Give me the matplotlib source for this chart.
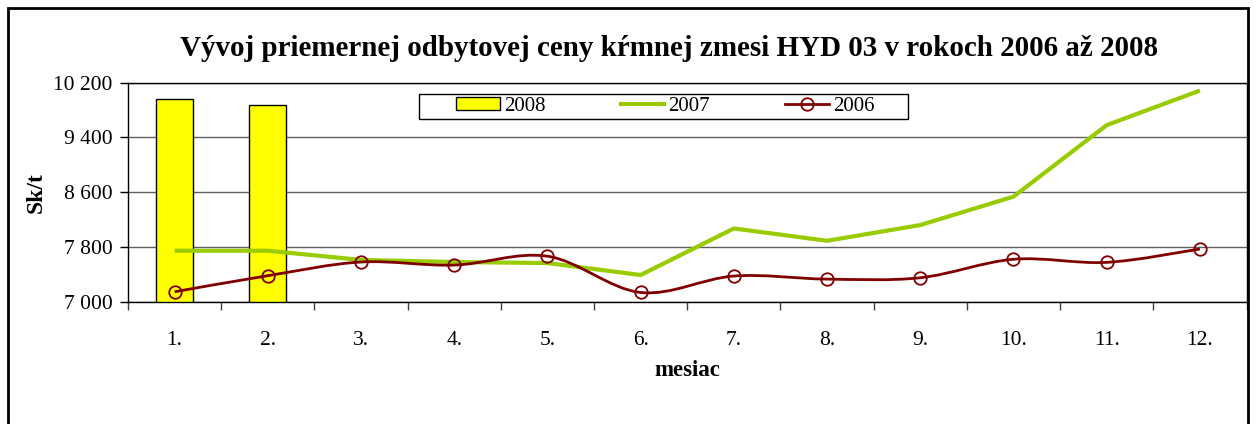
import numpy as np
import matplotlib
matplotlib.use('Agg')
import matplotlib.pyplot as plt
from matplotlib.path import Path
from matplotlib.patches import PathPatch, Rectangle, Patch
from matplotlib.lines import Line2D

# Data
months = ['1.', '2.', '3.', '4.', '5.', '6.', '7.', '8.', '9.', '10.', '11.', '12.']
price_2008 = [9960, 9880]
price_2007 = [7745, 7745, 7610, 7580, 7565, 7390, 8070, 7890, 8120, 8535, 9580, 10085]
price_2006 = [7145, 7380, 7580, 7535, 7665, 7135, 7375, 7330, 7350, 7620, 7575, 7770]

plt.rcParams['font.family'] = ['Liberation Serif', 'DejaVu Serif']

W, H = 1257, 424
fig = plt.figure(figsize=(W / 100, H / 100), dpi=100)
ax = fig.add_axes([128 / W, 1 - 301.7 / H, 1118.5 / W, 219 / H])

x = np.arange(len(months))

# yellow bars for 2008
ax.bar(x[:len(price_2008)], price_2008, width=0.4, color='#FFFF00',
       edgecolor='black', linewidth=1, zorder=2)

# green 2007 line
ax.plot(x, price_2007, color='#99CC00', lw=3, zorder=3, solid_capstyle='butt')


def smooth_path(xs, ys):
    # bezier curve through the points (catmull-rom style, like excel smoothing)
    pts = np.column_stack([xs, ys]).astype(float)
    verts = [pts[0]]
    codes = [Path.MOVETO]
    n = len(pts)
    for i in range(n - 1):
        p0 = pts[i - 1] if i > 0 else pts[i]
        p1 = pts[i]
        p2 = pts[i + 1]
        p3 = pts[i + 2] if i + 2 < n else pts[i + 1]
        c1 = p1 + (p2 - p0) / 6.0
        c2 = p2 - (p3 - p1) / 6.0
        verts += [c1, c2, p2]
        codes += [Path.CURVE4] * 3
    return Path(verts, codes)


ax.add_patch(PathPatch(smooth_path(x, price_2006), fill=False,
                       edgecolor='#800000', lw=2, zorder=4))
ax.plot(x, price_2006, 'o', ms=9, mfc='none', mec='#800000', mew=1.3, zorder=5)

ax.set_xlim(-0.5, len(months) - 0.5)
ax.set_ylim(7000, 10200)
ax.set_yticks([7000, 7800, 8600, 9400, 10200])
ax.set_yticklabels(['7 000', '7 800', '8 600', '9 400', '10 200'])
ax.yaxis.grid(True, color='#606060', lw=1, zorder=0)
ax.set_axisbelow(True)

ax.set_xticks(x)
ax.set_xticklabels(months)
ax.set_xticks(np.arange(-0.5, len(months), 1), minor=True)
ax.tick_params(axis='x', which='major', length=0, pad=21, labelsize=15.5)
ax.tick_params(axis='x', which='minor', length=6, width=1, color='#404040')
ax.tick_params(axis='y', length=6, width=1, pad=5, labelsize=15.5)

for s in ax.spines.values():
    s.set_linewidth(1)
    s.set_color('black')

ax.set_ylabel('Sk/t', fontsize=17, fontweight='bold', labelpad=5)
ax.set_xlabel('mesiac', fontsize=16.5, fontweight='bold', labelpad=7)

fig.text(669 / W, 1 - 49 / H,
         'Vývoj priemernej odbytovej ceny kŕmnej zmesi HYD 03 v rokoch 2006 až 2008',
         ha='center', va='center', fontsize=20.9, fontweight='bold')

# legend box drawn separately so the padding can match
ax.add_patch(Rectangle((0.26, 0.834), 0.437, 0.114, transform=ax.transAxes,
                       facecolor='white', edgecolor='black', lw=1, zorder=6))
handles = [
    Patch(facecolor='#FFFF00', edgecolor='black', lw=1),
    Line2D([], [], color='#99CC00', lw=3),
    Line2D([], [], color='#800000', lw=2, marker='o', ms=9, mfc='none',
           mec='#800000', mew=1.3),
]
leg = ax.legend(handles, ['2008', '2007', '2006'], ncol=3, loc='center',
                bbox_to_anchor=(0.26 + 0.437 / 2 + 0.002, 0.834 + 0.114 / 2),
                frameon=False, fontsize=15, handlelength=2.1, handleheight=0.55,
                handletextpad=0.2, columnspacing=3.6, borderpad=0,
                borderaxespad=0)
leg.set_zorder(7)

# outer frame of the chart
fig.patches.append(Rectangle((8 / W, -0.05), 1240 / W, 1.05 - 8 / H,
                             transform=fig.transFigure, fill=False,
                             edgecolor='black', lw=2))

fig.savefig('out.png', dpi=100)
